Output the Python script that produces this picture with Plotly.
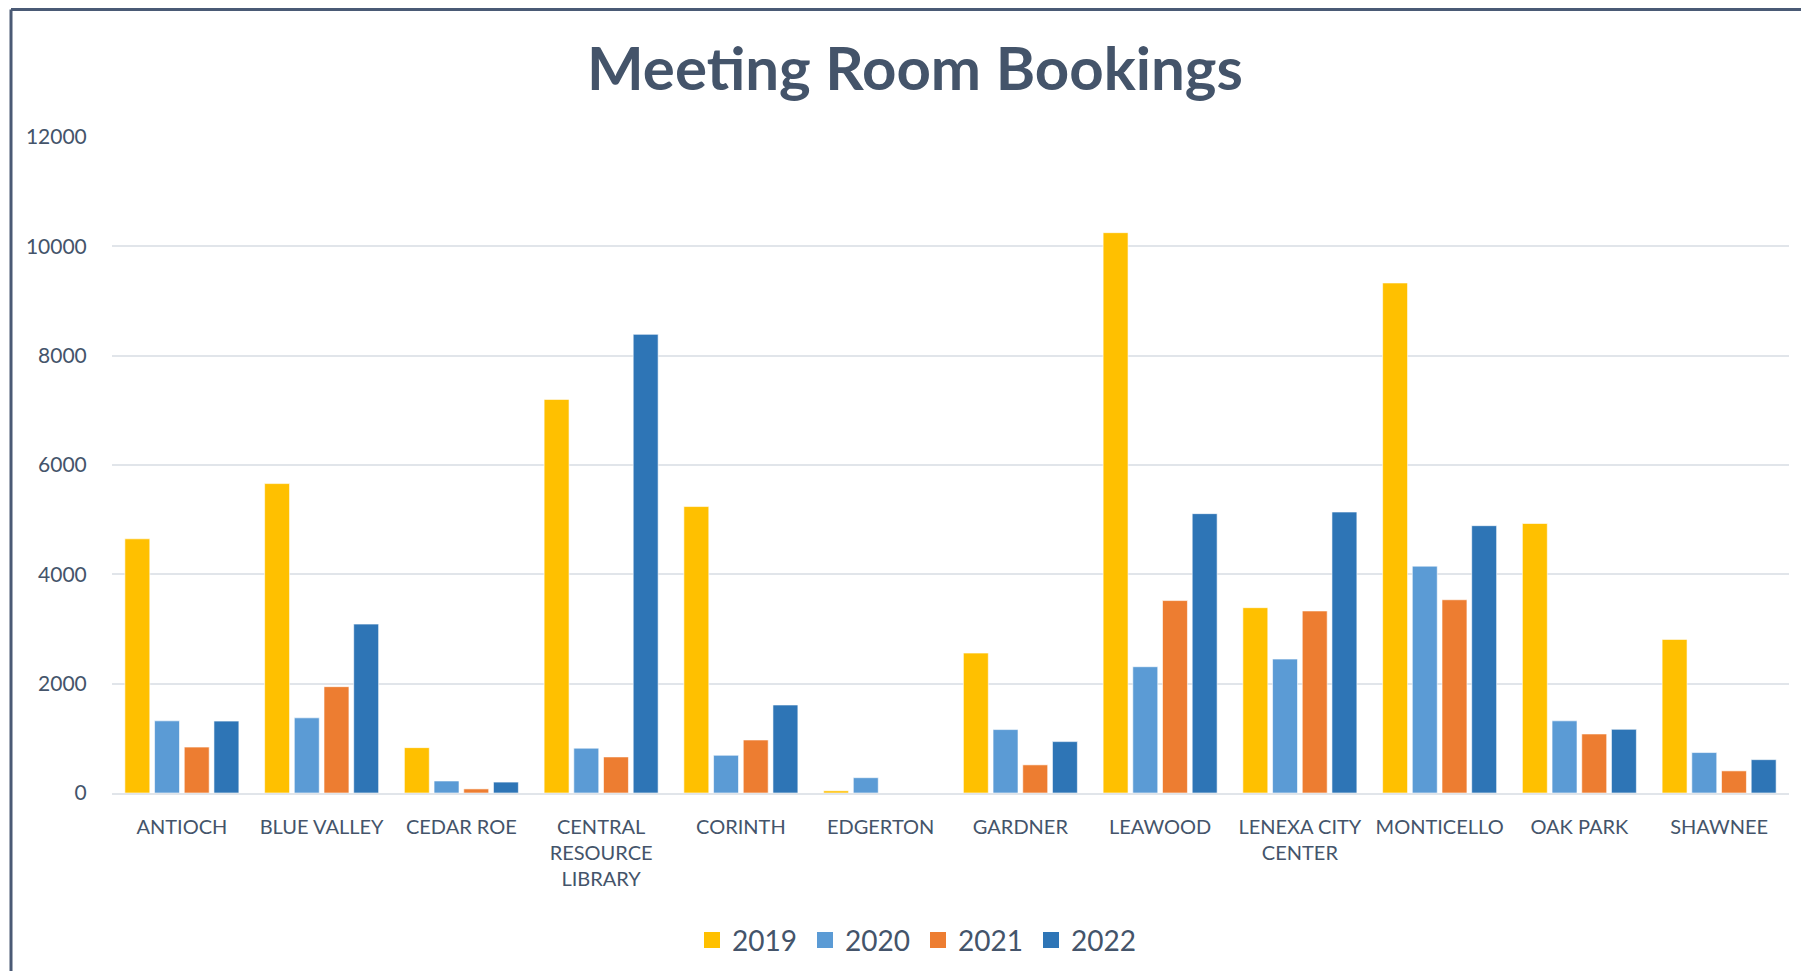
import plotly.graph_objects as go

categories = ["ANTIOCH", "BLUE VALLEY", "CEDAR ROE", "CENTRAL<br>RESOURCE<br>LIBRARY", "CORINTH",
              "EDGERTON", "GARDNER", "LEAWOOD", "LENEXA CITY<br>CENTER", "MONTICELLO",
              "OAK PARK", "SHAWNEE"]
v2019 = [4650, 5660, 830, 7200, 5240, 40, 2560, 10250, 3390, 9330, 4930, 2810]
v2020 = [1320, 1375, 220, 820, 690, 280, 1160, 2310, 2450, 4150, 1320, 740]
v2021 = [840, 1945, 75, 660, 970, 0, 515, 3520, 3330, 3535, 1080, 405]
v2022 = [1315, 3090, 200, 8390, 1610, 0, 940, 5110, 5140, 4890, 1165, 610]
years = ["2019", "2020", "2021", "2022"]
colors = ["#FFC000", "#5B9BD5", "#ED7D31", "#2E75B6"]
yticks = [0, 2000, 4000, 6000, 8000, 10000, 12000]

TXT = "#44546A"
FONT = "Lato"

fig = go.Figure()
for name, vals, c in zip(years, [v2019, v2020, v2021, v2022], colors):
    fig.add_trace(go.Bar(name=name, x=categories, y=vals, showlegend=False, legendgroup=name,
                         marker=dict(color=c, line=dict(color="rgba(255,255,255,0.6)", width=1))))
# legend entries with larger square swatches
for name, c in zip(years, colors):
    fig.add_trace(go.Scatter(name=name, x=[None], y=[None], mode="markers", legendgroup=name,
                             marker=dict(symbol="square", size=18, color=c), showlegend=True,
                             hoverinfo="skip"))

# page body has an 8px margin; figure occupies 8..(W+8)
OFF = 8
W, H = 1809 - 2 * OFF, 979 - 2 * OFF
l = 112 - OFF
r = W - (1789 - OFF)
t = round(137.3 - OFF)
b = round(H - (792.6 - OFF))
pw = W - l - r
ph = H - t - b

fig.update_layout(
    width=W, height=H,
    margin=dict(l=l, r=r, t=t, b=b, autoexpand=False),
    paper_bgcolor="white", plot_bgcolor="white",
    barmode="group", bargap=0.15, bargroupgap=0.16,
    font=dict(family=FONT, color=TXT),
    title=dict(text="<b>Meeting Room Bookings</b>", x=(915 - OFF) / W, xanchor="center",
               y=1 - (69 - OFF) / H, yanchor="middle", font=dict(family=FONT, size=60, color=TXT)),
    legend=dict(orientation="h", x=(918 - OFF - l) / pw, xanchor="center",
                y=-(940 - 792.6) / ph, yanchor="middle",
                font=dict(family=FONT, size=28, color=TXT), itemsizing="trace",
                traceorder="normal", itemwidth=30, entrywidth=68, entrywidthmode="pixels"),
    xaxis=dict(showline=True, linecolor="#E1E5EA", linewidth=2, ticks="outside", ticklen=15,
               tickcolor="rgba(0,0,0,0)", tickfont=dict(family=FONT, size=20, color=TXT),
               tickangle=0, showgrid=False),
    yaxis=dict(range=[0, 12000], tickvals=yticks, ticktext=[str(v) for v in yticks],
               showgrid=True, gridcolor="#E1E5EA", gridwidth=2, zeroline=False,
               ticks="outside", ticklen=20, tickcolor="rgba(0,0,0,0)",
               tickfont=dict(family=FONT, size=21, color=TXT), fixedrange=True),
    showlegend=True,
)

# outer chart frame (left and top edges visible)
fx0 = (11 - OFF - l) / pw
fy1 = (H - b - 1.5) / ph
fig.add_shape(type="line", xref="paper", yref="paper", x0=fx0, x1=fx0, y0=fy1, y1=-(b + 20) / ph,
              line=dict(color="#4A5A75", width=3), layer="above")
fig.add_shape(type="line", xref="paper", yref="paper", x0=fx0, x1=(W + 20 - l) / pw, y0=fy1, y1=fy1,
              line=dict(color="#4A5A75", width=3), layer="above")

fig.write_html("out.html")
